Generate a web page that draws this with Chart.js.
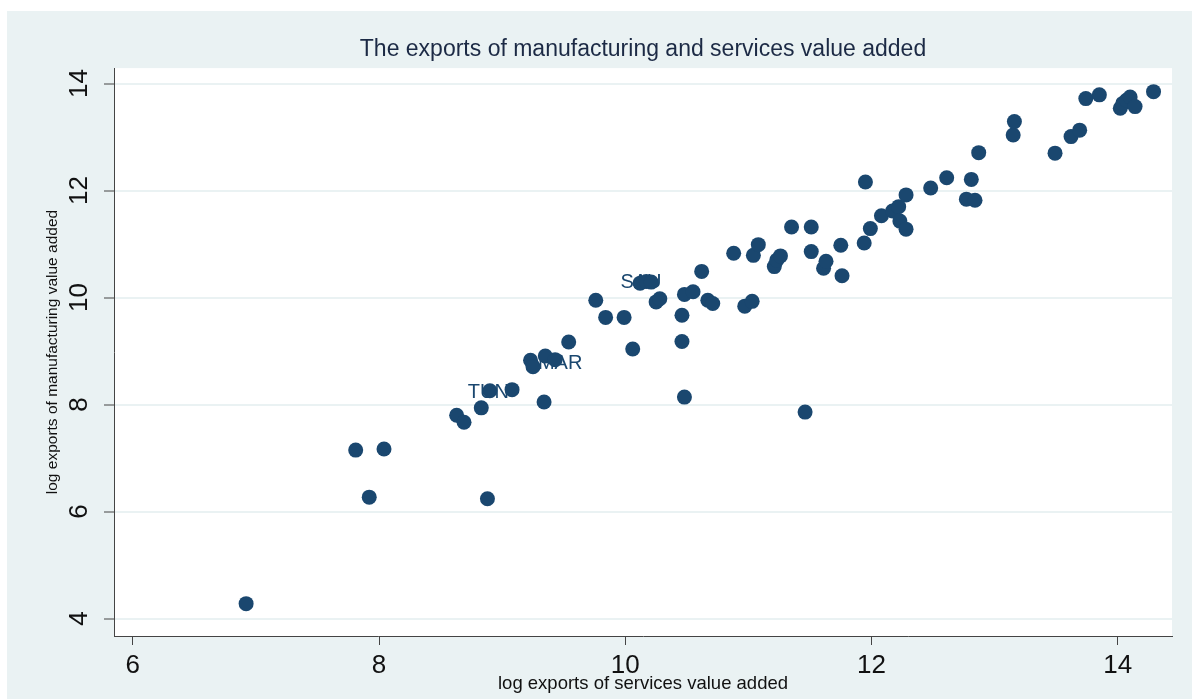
<!DOCTYPE html>
<html>
<head>
<meta charset="utf-8">
<script src="https://cdn.jsdelivr.net/npm/chart.js@4.4.0/dist/chart.umd.min.js"></script>
<style>
  html, body { margin: 0; padding: 0; background: #ffffff; }
  #wrap { position: absolute; left: 7px; top: 11px; width: 1185px; height: 688px; background: #eaf2f3; }
</style>
</head>
<body>
<div id="wrap"><canvas id="scatter"></canvas></div>
<script>
// log exports of services value added (x) and manufacturing value added (y)
const servicesX = [6.92, 7.81, 7.92, 8.04, 8.63, 8.69, 8.83, 8.88, 8.90, 9.08,
  9.23, 9.25, 9.34, 9.35, 9.43, 9.54, 9.76, 9.84, 9.99, 10.06,
  10.12, 10.17, 10.21, 10.25, 10.28, 10.46, 10.46, 10.48, 10.48, 10.55,
  10.62, 10.67, 10.71, 10.88, 10.97, 11.03, 11.04, 11.08, 11.21, 11.23,
  11.26, 11.35, 11.46, 11.51, 11.51, 11.61, 11.63, 11.75, 11.76, 11.94,
  11.95, 11.99, 12.08, 12.17, 12.22, 12.23, 12.28, 12.28, 12.48, 12.61,
  12.77, 12.81, 12.84, 12.87, 13.15, 13.16, 13.49, 13.62, 13.69, 13.74,
  13.85, 14.02, 14.04, 14.07, 14.10, 14.14, 14.29]
const manufY = [4.28, 7.15, 6.27, 7.17, 7.80, 7.67, 7.94, 6.24, 8.26, 8.28,
  8.83, 8.71, 8.05, 8.91, 8.84, 9.17, 9.95, 9.63, 9.63, 9.04,
  10.27, 10.30, 10.29, 9.92, 9.98, 9.67, 9.18, 8.14, 10.06, 10.11,
  10.49, 9.95, 9.89, 10.83, 9.84, 9.93, 10.79, 10.99, 10.58, 10.70,
  10.78, 11.32, 7.86, 11.32, 10.86, 10.55, 10.68, 10.98, 10.41, 11.02,
  12.16, 11.29, 11.53, 11.62, 11.70, 11.43, 11.28, 11.92, 12.05, 12.24,
  11.84, 12.21, 11.82, 12.71, 13.04, 13.29, 12.70, 13.01, 13.13, 13.72,
  13.79, 13.54, 13.63, 13.69, 13.75, 13.57, 13.85]

// country labels shown on the plot
const labelNames = ['SAU', 'MAR', 'TUN']
const labelX = [9.96, 9.29, 8.72]
const labelY = [10.29, 8.77, 8.23]

const xTicks = [6, 8, 10, 12, 14]
const yTicks = [4, 6, 8, 10, 12, 14]

const navy = '#1a476f'
const fontFamily = "'Liberation Sans', Arial, sans-serif"

let points = []
for (let i = 0; i < servicesX.length; i++) {
  points.push({ x: servicesX[i], y: manufY[i] })
}

// white plot region inside the grey panel
const plotBackground = {
  id: 'plotBackground',
  beforeDraw(chart) {
    const { ctx, chartArea } = chart
    ctx.save()
    ctx.fillStyle = '#ffffff'
    ctx.fillRect(chartArea.left, chartArea.top, chartArea.right - chartArea.left, chartArea.bottom - chartArea.top)
    ctx.restore()
  }
}

// marker labels, drawn under the markers like in the original
const markerLabels = {
  id: 'markerLabels',
  beforeDatasetsDraw(chart) {
    const ctx = chart.ctx
    const xs = chart.scales.x, ys = chart.scales.y
    ctx.save()
    ctx.font = '20px ' + fontFamily
    ctx.fillStyle = navy
    ctx.textAlign = 'left'
    ctx.textBaseline = 'middle'
    labelNames.forEach((name, i) => {
      ctx.fillText(name, xs.getPixelForValue(labelX[i]), ys.getPixelForValue(labelY[i]))
    })
    ctx.restore()
  }
}

const config = {
  type: 'scatter',
  data: {
    datasets: [{
      data: points,
      backgroundColor: navy,
      borderWidth: 0,
      pointRadius: 7.5,
      pointHoverRadius: 7.5
    }]
  },
  options: {
    responsive: true,
    maintainAspectRatio: false,
    animation: false,
    layout: { padding: { left: 0, right: 20, top: 0, bottom: 0 } },
    plugins: {
      legend: { display: false },
      tooltip: { enabled: false },
      title: {
        display: true,
        fullSize: false,
        text: 'The exports of manufacturing and services value added',
        color: '#1c2a45',
        font: { family: fontFamily, size: 23, weight: 'normal' },
        padding: { top: 24.5, bottom: 5 }
      }
    },
    scales: {
      x: {
        type: 'linear',
        min: 5.847,
        max: 14.44,
        afterBuildTicks: (scale) => { scale.ticks = xTicks.map(v => ({ value: v })) },
        afterFit: (scale) => { scale.height = 63 },
        ticks: {
          autoSkip: false,
          padding: 5,
          color: '#111111',
          maxRotation: 0,
          font: { family: fontFamily, size: 26 }
        },
        grid: {
          drawOnChartArea: false,
          drawTicks: true,
          tickLength: 9,
          tickColor: '#444444',
          tickWidth: 1
        },
        border: { display: true, color: '#444444', width: 1 },
        title: {
          display: true,
          text: 'log exports of services value added',
          color: '#111111',
          font: { family: fontFamily, size: 18.5 },
          padding: { top: 0, bottom: 4 }
        }
      },
      y: {
        type: 'linear',
        min: 3.675,
        max: 14.29,
        afterBuildTicks: (scale) => { scale.ticks = yTicks.map(v => ({ value: v })) },
        afterFit: (scale) => { scale.width = 107 },
        ticks: {
          autoSkip: false,
          minRotation: 90,
          maxRotation: 90,
          crossAlign: 'center',
          padding: 10,
          color: '#111111',
          font: { family: fontFamily, size: 26 }
        },
        grid: {
          color: '#eaf2f3',
          lineWidth: 2,
          drawTicks: true,
          tickLength: 10,
          tickColor: '#444444',
          tickWidth: 1
        },
        border: { display: true, color: '#444444', width: 1 },
        title: {
          display: true,
          text: 'log exports of manufacturing value added',
          color: '#111111',
          font: { family: fontFamily, size: 15.5 },
          padding: { top: 36, bottom: 0 }
        }
      }
    }
  },
  plugins: [plotBackground, markerLabels]
}

new Chart(document.getElementById('scatter'), config)
</script>
</body>
</html>
